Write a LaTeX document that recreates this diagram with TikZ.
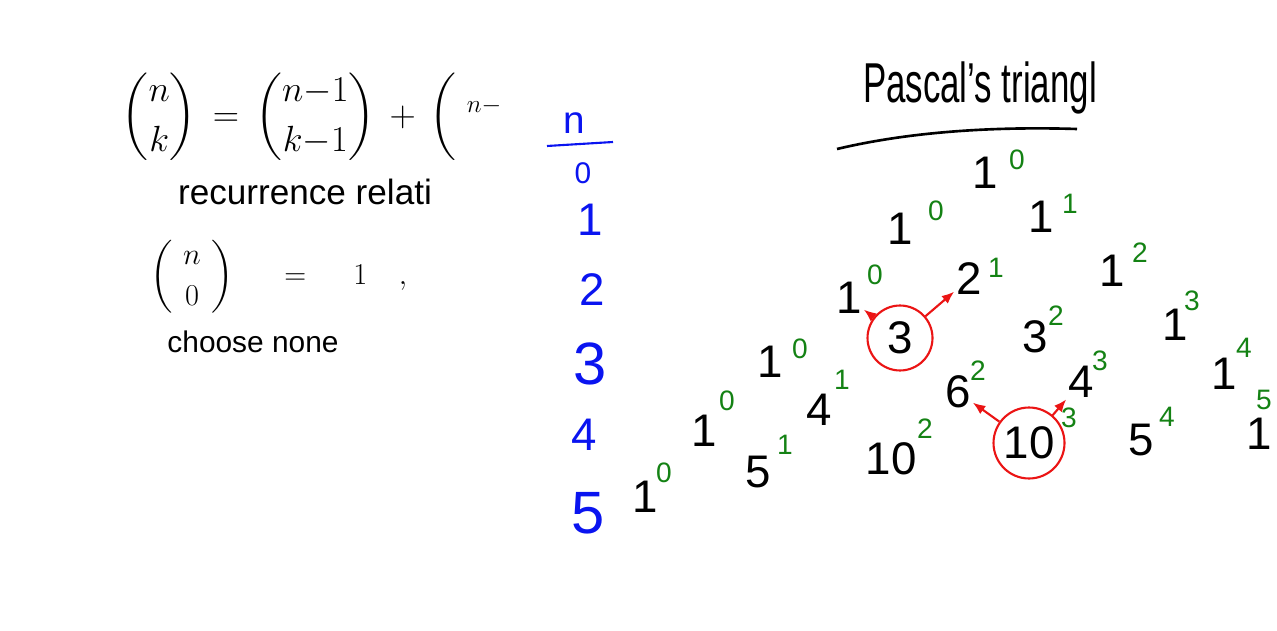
\documentclass[tikz,border=0pt]{standalone}
\usepackage{fontspec}
\setmainfont{Liberation Sans}
\usepackage{amsmath}
\usetikzlibrary{arrows.meta,positioning}
\definecolor{supgreen}{RGB}{20,130,20}
\definecolor{rowblue}{RGB}{10,20,240}
\definecolor{markred}{RGB}{235,20,20}
\tikzset{
    entry/.style={font=\fontsize{26}{28}\selectfont,inner sep=1pt},
    supnum/.style={text=supgreen,font=\fontsize{16}{18}\selectfont,inner sep=1pt},
    rowlabel/.style={text=rowblue,font=\fontsize{26}{28}\selectfont,inner sep=1pt},
    handnote/.style={font=\fontsize{20}{22}\selectfont,inner sep=1pt},
    ring/.style={circle,draw=markred,line width=1.2pt,inner sep=0pt,font=\fontsize{26}{28}\selectfont},
    pickline/.style={-{Latex[length=2.5mm,width=2mm]},markred,line width=1.2pt}
}

\begin{document}
\begin{tikzpicture}[x=0.02cm,y=-0.02cm]
        \fill[white] (0,0) rectangle (1277,631);
        \useasboundingbox (0,0) rectangle (1277,631);
        % notes on the left
        \node[font=\fontsize{20}{22}\selectfont,inner sep=0pt] (recur) at (312,117) {$\dbinom{n}{k}\,=\,\dbinom{n{-}1}{k{-}1}\,+\,\biggl(\;{}^{n-}$};
        \node[handnote,inner sep=0pt] (recname) at (305,192) {recurrence relati};
        \node[font=\fontsize{18}{20}\selectfont,inner sep=0pt,anchor=west] (base) at (150,277) {$\biggl(\;\genfrac{}{}{0pt}{0}{n}{0}\;\biggr)\hspace{24pt}=\hspace{22pt}1\hspace{18pt},$};
        \node[handnote,font=\fontsize{17}{19}\selectfont] (none) at (253,342) {choose none};
        % row numbers
        \node[rowlabel,font=\fontsize{22}{24}\selectfont] (rown) at (574,123) {n};
        \draw[rowblue,line width=1.2pt] (547,146) -- (613,142);
        \node[rowlabel,font=\fontsize{17}{19}\selectfont] (row0) at (583,173) {0};
        \node[rowlabel] (row1) at (590,220) {1};
        \node[rowlabel] (row2) at (592,290) {2};
        \node[rowlabel,font=\fontsize{34}{36}\selectfont] (row3) at (590,364) {3};
        \node[rowlabel] (row4) at (584,435) {4};
        \node[rowlabel,font=\fontsize{34}{36}\selectfont] (row5) at (588,513) {5};
        % title
        \node[font=\fontsize{32}{34}\selectfont] (title) at (980,88) {\scalebox{0.62}[1]{Pascal's triangl}};
        \draw[line width=1.5pt] (837,149) .. controls (900,134) and (980,126) .. (1077,129);
        % the triangle
        \node[entry] (r0k0) at (985,173) {1};
        \node[supnum] at (1017,160) {0};
        \node[entry] (r1k0) at (900,229) {1};
        \node[supnum] at (936,211) {0};
        \node[entry] (r1k1) at (1041,217) {1};
        \node[supnum] at (1070,204) {1};
        \node[entry] (r2k0) at (849,298) {1};
        \node[supnum] at (875,275) {0};
        \node[entry] (r2k1) at (969,279) {2};
        \node[supnum] at (996,268) {1};
        \node[entry] (r2k2) at (1112,271) {1};
        \node[supnum] at (1140,253) {2};
        \node[entry] (r3k0) at (770,362) {1};
        \node[supnum] at (800,349) {0};
        \node[ring,minimum size=1.3cm] (r3k1) at (900,338) {3};
        \node[entry] (r3k2) at (1035,337) {3};
        \node[supnum] at (1056,316) {2};
        \node[entry] (r3k3) at (1175,325) {1};
        \node[supnum] at (1192,301) {3};
        \node[entry] (r4k0) at (704,431) {1};
        \node[supnum] at (727,401) {0};
        \node[entry] (r4k1) at (819,410) {4};
        \node[supnum] at (842,380) {1};
        \node[entry] (r4k2) at (958,392) {6};
        \node[supnum] at (978,371) {2};
        \node[entry] (r4k3) at (1081,382) {4};
        \node[supnum] at (1100,361) {3};
        \node[entry] (r4k4) at (1224,374) {1};
        \node[supnum] at (1244,348) {4};
        \node[entry] (r5k0) at (645,497) {1};
        \node[supnum] at (664,473) {0};
        \node[entry] (r5k1) at (758,472) {5};
        \node[supnum] at (785,445) {1};
        \node[entry] (r5k2) at (891,459) {10};
        \node[supnum] at (925,429) {2};
        \node[ring,minimum size=1.42cm] (r5k3) at (1029,443) {10};
        \node[supnum] at (1069,418) {3};
        \node[entry] (r5k4) at (1141,440) {5};
        \node[supnum] at (1167,417) {4};
        \node[entry] (r5k5) at (1259,434) {1};
        \node[supnum] at (1264,400) {5};
        \draw[pickline] (r3k1) -- (r2k0);
        \draw[pickline] (r3k1) -- (r2k1);
        \draw[pickline] (r5k3) -- (r4k2);
        \draw[pickline] (r5k3) -- (r4k3);
    \end{tikzpicture}
\end{document}
